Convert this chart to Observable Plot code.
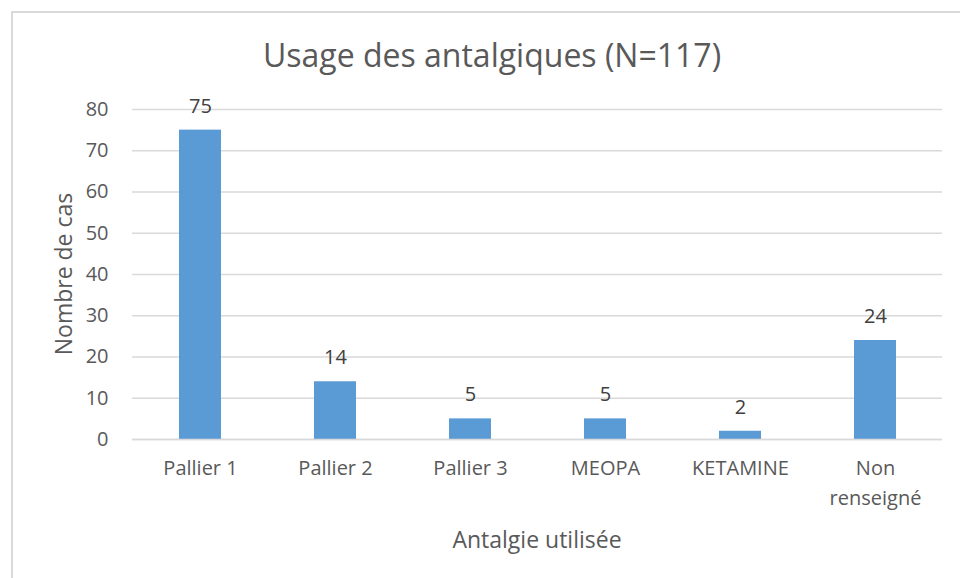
<!DOCTYPE html>
<html>
<head>
<meta charset="utf-8">
<script src="https://cdn.jsdelivr.net/npm/d3@7"></script>
<script src="https://cdn.jsdelivr.net/npm/@observablehq/plot@0.6"></script>
<style>
  body { margin: 0; background: #fff; font-family: "Open Sans", sans-serif; }
  #wrap { position: relative; width: 960px; height: 578px; overflow: hidden; }
  #frame { position: absolute; left: 11px; top: 11px; width: 980px; height: 600px; border: 2px solid #d9d9d9; box-sizing: border-box; }
  #title { position: absolute; left: 0; width: 984px; top: 33px; text-align: center; font-size: 32px; line-height: 44px; color: #595959; }
  #ylab { position: absolute; left: 63px; top: 274px; transform: translate(-50%, -50%) rotate(-90deg); font-size: 23px; color: #595959; white-space: nowrap; }
  #xlab { position: absolute; left: 537px; top: 539px; transform: translate(-50%, -50%); font-size: 23px; color: #595959; white-space: nowrap; }
  #chart { position: absolute; left: 0; top: 0; }
</style>
</head>
<body>
<div id="wrap">
  <div id="frame"></div>
  <div id="chart"></div>
  <div id="title">Usage des antalgiques (N=117)</div>
  <div id="ylab">Nombre de cas</div>
  <div id="xlab">Antalgie utilisée</div>
</div>
<script>
const categories = ["Pallier 1", "Pallier 2", "Pallier 3", "MEOPA", "KETAMINE", "Non\nrenseigné"];
const values = [75, 14, 5, 5, 2, 24];
const yTicks = [0, 10, 20, 30, 40, 50, 60, 70, 80];

const data = categories.map((c, i) => ({cat: c, val: values[i]}));

const chart = Plot.plot({
  width: 960,
  height: 578,
  marginLeft: 132,
  marginRight: 18,
  marginTop: 109,
  marginBottom: 139,
  style: {fontFamily: "Open Sans, sans-serif", fontSize: "20px", color: "#595959", background: "transparent"},
  x: {domain: categories, paddingInner: 0.69, paddingOuter: 0.345, label: null},
  y: {domain: [0, 80], label: null},
  marks: [
    Plot.gridY(yTicks, {stroke: "#d9d9d9", strokeOpacity: 1, strokeWidth: 1.5}),
    Plot.axisY(yTicks, {tickSize: 0, tickPadding: 24, label: null, fill: "#595959", fontSize: 20}),
    Plot.axisX({tickSize: 0, tickPadding: 14, label: null, fill: "#595959", fontSize: 20, lineHeight: 1.5}),
    Plot.barY(data, {x: "cat", y: "val", fill: "#5b9bd5"}),
    Plot.ruleY([0], {stroke: "#d9d9d9", strokeWidth: 1.5}),
    Plot.text(data, {x: "cat", y: "val", text: d => String(d.val), dy: -24, fill: "#404040", fontSize: 20})
  ]
});
document.getElementById("chart").appendChild(chart);
</script>
</body>
</html>
